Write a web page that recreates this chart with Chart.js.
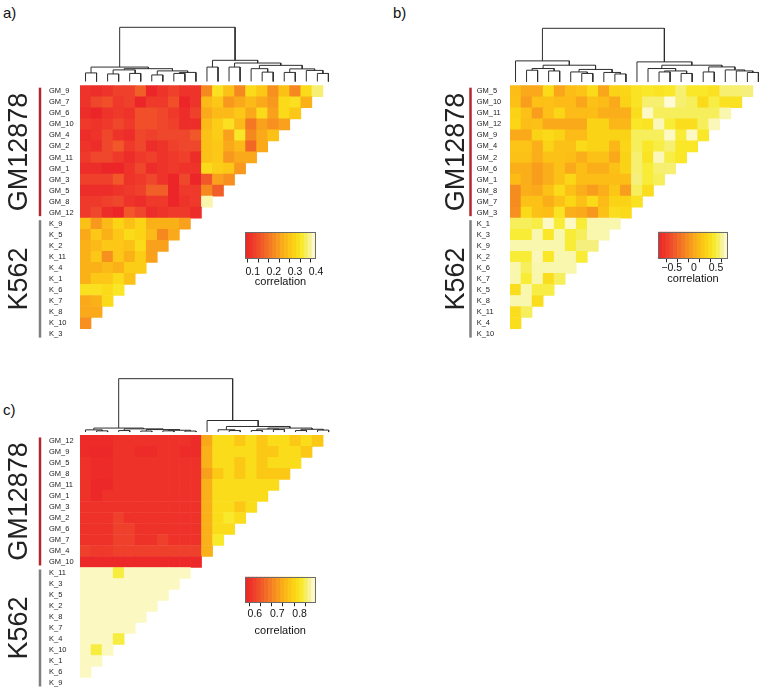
<!DOCTYPE html>
<html>
<head>
<meta charset="utf-8">
<script src="https://cdn.jsdelivr.net/npm/chart.js@4.4.1/dist/chart.umd.min.js"></script>
<style>
  body { margin: 0; background: #fff; width: 765px; height: 693px; position: relative; overflow: hidden;
         font-family: "Liberation Sans", Arial, Helvetica, sans-serif; }
  canvas { position: absolute; }
  .tag { position: absolute; font-size: 15px; color: #111; }
</style>
</head>
<body>
<div class="tag" style="left:3px;top:4px">a)</div>
<div class="tag" style="left:393px;top:4px">b)</div>
<div class="tag" style="left:3px;top:401px">c)</div>

<canvas id="mapA" width="345" height="345" style="left:0;top:0"></canvas>
<canvas id="mapB" width="335" height="345" style="left:430px;top:0"></canvas>
<canvas id="mapC" width="345" height="348" style="left:0;top:345px"></canvas>
<canvas id="keyA" width="95" height="75" style="left:235px;top:222px"></canvas>
<canvas id="keyB" width="100" height="75" style="left:648px;top:222px"></canvas>
<canvas id="keyC" width="95" height="80" style="left:234.5px;top:567px"></canvas>

<script>
// ---- data ----
const rowsA = ['GM_9','GM_7','GM_6','GM_10','GM_4','GM_2','GM_11','GM_1','GM_3','GM_5','GM_8','GM_12',
               'K_9','K_5','K_2','K_11','K_4','K_1','K_6','K_7','K_8','K_10','K_3'];
const rowsB = ['GM_5','GM_10','GM_11','GM_12','GM_9','GM_4','GM_2','GM_6','GM_1','GM_8','GM_7','GM_3',
               'K_1','K_3','K_9','K_2','K_6','K_7','K_5','K_8','K_11','K_4','K_10'];
const rowsC = ['GM_12','GM_9','GM_5','GM_8','GM_11','GM_1','GM_3','GM_2','GM_6','GM_7','GM_4','GM_10',
               'K_11','K_3','K_5','K_2','K_8','K_7','K_4','K_10','K_1','K_6','K_9'];

// correlation values, one row per label, columns follow the dendrogram leaves
const valsA = [
  [0.09,0.08,0.09,0.11,0.11,0.15,0.07,0.09,0.11,0.09,0.09, 0.2,0.32,0.27,0.2,0.31,0.28,0.21,0.27,0.2,0.31,0.36],
  [0.09,0.12,0.13,0.1,0.11,0.07,0.1,0.1,0.13,0.07,0.09, 0.26,0.28,0.22,0.24,0.26,0.24,0.22,0.31,0.32,0.25],
  [0.08,0.07,0.09,0.1,0.09,0.13,0.13,0.12,0.1,0.08,0.11, 0.24,0.26,0.26,0.28,0.24,0.31,0.23,0.31,0.28],
  [0.1,0.09,0.1,0.12,0.1,0.13,0.13,0.12,0.11,0.08,0.08, 0.26,0.29,0.32,0.26,0.18,0.23,0.21,0.23],
  [0.08,0.09,0.12,0.09,0.08,0.12,0.11,0.12,0.12,0.12,0.14, 0.27,0.29,0.23,0.33,0.2,0.24,0.27],
  [0.09,0.08,0.12,0.14,0.1,0.12,0.08,0.09,0.11,0.12,0.12, 0.27,0.28,0.24,0.26,0.16,0.24],
  [0.1,0.12,0.12,0.1,0.08,0.1,0.11,0.09,0.1,0.11,0.08, 0.27,0.28,0.22,0.24,0.24],
  [0.08,0.08,0.07,0.07,0.09,0.12,0.08,0.09,0.1,0.09,0.09, 0.31,0.29,0.28,0.22],
  [0.11,0.11,0.11,0.14,0.09,0.1,0.12,0.09,0.07,0.12,0.07, 0.14,0.23,0.21],
  [0.08,0.08,0.08,0.09,0.1,0.11,0.15,0.15,0.07,0.1,0.1, 0.2,0.15],
  [0.1,0.1,0.11,0.12,0.09,0.08,0.1,0.1,0.07,0.09,0.1, 0.38],
  [0.1,0.12,0.08,0.07,0.14,0.12,0.08,0.09,0.1,0.1,0.08],
  [0.27,0.22,0.26,0.3,0.27,0.3,0.25,0.25,0.25,0.23],
  [0.24,0.28,0.25,0.28,0.31,0.3,0.26,0.2,0.24],
  [0.25,0.26,0.28,0.28,0.27,0.31,0.23,0.23],
  [0.25,0.28,0.21,0.28,0.25,0.29,0.23],
  [0.25,0.25,0.26,0.25,0.29,0.29],
  [0.25,0.28,0.28,0.31,0.27],
  [0.32,0.32,0.31,0.33],
  [0.24,0.25,0.31],
  [0.24,0.24],
  [0.21],
  []
];
const valsB = [
  [0.14,0.02,0.02,0.35,0.0,0.14,0.18,0.35,0.0,0.3,0.32, 0.42,0.45,0.42,0.45,0.58,0.45,0.45,0.4,0.58,0.58,0.6],
  [0.15,-0.05,0.15,0.15,0.12,0.12,0.0,0.15,0.12,0.02,0.3, 0.42,0.58,0.58,0.75,0.58,0.55,0.35,0.52,0.4,0.4],
  [0.3,0.15,-0.05,0.15,0.32,0.12,0.12,0.14,0.05,0.05,0.05, 0.38,0.72,0.55,0.55,0.55,0.55,0.55,0.55,0.68],
  [0.32,0.14,0.16,0.02,0.02,0.02,0.02,0.3,0.3,0.1,0.1, 0.45,0.42,0.7,0.5,0.38,0.38,0.55,0.7],
  [0.02,0.02,0.3,0.35,0.3,0.12,0.12,0.3,0.3,0.3,0.3, 0.55,0.55,0.55,0.72,0.5,0.72,0.45],
  [0.18,0.18,0.05,0.3,0.16,0.16,0.35,0.3,0.3,0.1,0.32, 0.55,0.45,0.52,0.58,0.45,0.45],
  [0.16,0.16,0.05,0.16,0.16,0.14,0.05,0.16,0.16,0.02,0.3, 0.58,0.42,0.7,0.52,0.45],
  [0.05,0.05,-0.05,0.05,0.16,0.02,0.14,0.05,0.05,0.16,0.3, 0.58,0.5,0.58,0.58],
  [0.12,0.05,-0.05,0.05,0.16,0.32,0.14,0.14,0.14,0.14,0.14, 0.6,0.5,0.55],
  [-0.15,0.05,0.02,0.16,0.35,0.16,0.05,-0.05,0.05,0.2,-0.05, 0.55,0.38],
  [-0.15,0.16,0.16,0.05,0.16,0.32,0.16,0.35,0.12,0.3,0.3, 0.4],
  [-0.12,0.35,0.16,0.14,0.42,0.05,0.02,-0.08,0.16,0.38,0.35],
  [0.55,0.55,0.52,0.72,0.5,0.72,0.5,0.68,0.68,0.68],
  [0.5,0.5,0.68,0.45,0.68,0.5,0.55,0.68,0.68],
  [0.68,0.68,0.68,0.68,0.68,0.5,0.6,0.6],
  [0.5,0.5,0.7,0.45,0.68,0.68,0.5],
  [0.68,0.55,0.68,0.68,0.68,0.68],
  [0.68,0.5,0.68,0.38,0.55],
  [0.38,0.68,0.52,0.52],
  [0.68,0.68,0.38],
  [0.38,0.55],
  [0.38],
  []
];
const valsC = [
  [0.57,0.57,0.57,0.58,0.58,0.58,0.58,0.58,0.58,0.58,0.57, 0.72,0.79,0.79,0.76,0.79,0.76,0.79,0.79,0.76,0.79,0.76],
  [0.57,0.565,0.565,0.58,0.58,0.57,0.57,0.58,0.58,0.57,0.57, 0.73,0.79,0.79,0.79,0.79,0.76,0.76,0.79,0.79,0.76],
  [0.58,0.57,0.57,0.58,0.58,0.58,0.58,0.58,0.58,0.58,0.58, 0.73,0.79,0.79,0.76,0.79,0.76,0.79,0.79,0.79],
  [0.58,0.57,0.57,0.58,0.58,0.58,0.58,0.58,0.58,0.58,0.58, 0.71,0.76,0.79,0.76,0.79,0.76,0.76,0.76],
  [0.58,0.565,0.565,0.58,0.58,0.58,0.58,0.58,0.58,0.58,0.58, 0.73,0.79,0.79,0.79,0.79,0.79,0.79],
  [0.58,0.565,0.58,0.58,0.58,0.58,0.58,0.58,0.58,0.58,0.58, 0.73,0.79,0.79,0.79,0.79,0.79],
  [0.58,0.58,0.58,0.58,0.58,0.58,0.58,0.58,0.58,0.58,0.58, 0.73,0.79,0.79,0.76,0.79],
  [0.58,0.58,0.58,0.6,0.58,0.58,0.58,0.58,0.58,0.58,0.58, 0.73,0.79,0.81,0.79],
  [0.58,0.58,0.58,0.6,0.6,0.58,0.58,0.58,0.58,0.58,0.58, 0.73,0.79,0.79],
  [0.58,0.58,0.58,0.6,0.6,0.58,0.58,0.6,0.58,0.58,0.58, 0.73,0.81],
  [0.6,0.59,0.59,0.6,0.6,0.6,0.6,0.6,0.6,0.6,0.6, 0.73],
  [0.565,0.565,0.565,0.565,0.565,0.565,0.565,0.565,0.565,0.565,0.565],
  [0.86,0.86,0.86,0.82,0.86,0.86,0.86,0.86,0.86,0.86],
  [0.86,0.86,0.86,0.86,0.86,0.86,0.86,0.86,0.86],
  [0.86,0.86,0.86,0.86,0.86,0.86,0.86,0.86],
  [0.86,0.86,0.86,0.86,0.86,0.86,0.86],
  [0.86,0.86,0.86,0.86,0.86,0.86],
  [0.86,0.86,0.86,0.86,0.86],
  [0.86,0.86,0.86,0.82],
  [0.86,0.82,0.86],
  [0.86,0.86],
  [0.86],
  []
];

// dendrograms: [left, right, height], leaves are column indices
const treeA = [
  [[0,1,8.5], [[[2,3,7.5],[4,5,8],11.5], [[6,7,6.5],[[8,9,8],10,9],10.5], 12.7], 14.3],
  [[11,12,14.3], [[13,14,14.3], [[15,[16,17,9.3],12.7], [[18,19,9],[20,[21,22,8],11],12.5], 16], 18.3], 21],
  53.7];
const treeB = [
  [0, [[[1,2,11.7],[3,4,11],13.4], [[5,[6,7,8.5],10],[8,[9,10,8],9.5],12.5], 16.7], 21],
  [11, [[12,[[13,14,10],[15,16,8.5],11],13.4], [[17,18,10],[19,[20,[21,22,9.5],11],12],15], 16.7], 20],
  53.4];
const treeC = [
  [[0,[1,2,1.2],2.2], [[3,4,1.5],[[5,6,1],[[7,8,1.2],[9,10,1],1.8],2.5],3.2], 4],
  [11, [[12,[13,14,1.5],2.3], [[[15,16,1.5],[17,18,2.5],3],[[19,20,1.5],[21,22,2],2.8],4], 5.6], 11.6],
  53.6];

const groups = [
  { name: 'GM12878', from: 0, to: 11 },
  { name: 'K562', from: 12, to: 22 }
];

// colour key ranges and ticks
const rangeA = [0.063, 0.4];
const rangeB = [-0.81, 0.77];
const rangeC = [0.556, 0.871];
const keyTicksA = [0.1, 0.15, 0.2, 0.25, 0.3, 0.35, 0.4];
const keyLabelsA = ['0.1', '', '0.2', '', '0.3', '', '0.4'];
const keyTicksB = [-0.75, -0.5, -0.25, 0, 0.25, 0.5, 0.75];
const keyLabelsB = ['', '\u22120.5', '', '0', '', '0.5', ''];
const keyTicksC = [0.6, 0.65, 0.7, 0.75, 0.8, 0.85];
const keyLabelsC = ['0.6', '', '0.7', '', '0.8', ''];

// ---- styling ----
const FONT = '"Liberation Sans", Arial, Helvetica, sans-serif';
Chart.defaults.font.family = FONT;
const heatStops = [
  [0.00, [236, 34, 39]],
  [0.15, [239, 66, 44]],
  [0.30, [242, 106, 38]],
  [0.45, [247, 148, 30]],
  [0.60, [252, 190, 22]],
  [0.72, [251, 215, 22]],
  [0.82, [248, 236, 45]],
  [0.90, [245, 240, 135]],
  [1.00, [255, 253, 226]]
];
const groupColors = ['#b2272d', '#7f7f7f'];

function heat(t) {
  t = Math.max(0, Math.min(1, t));
  for (let i = 1; i < heatStops.length; i++) {
    const [t0, c0] = heatStops[i - 1];
    const [t1, c1] = heatStops[i];
    if (t <= t1) {
      const f = (t - t0) / (t1 - t0);
      return 'rgb(' + c0.map((v, k) => Math.round(v + (c1[k] - v) * f)).join(',') + ')';
    }
  }
  return 'rgb(255,253,226)';
}

function dendroPoints(tree) {
  const pts = [];
  (function walk(n) {
    if (typeof n === 'number') return { x: n, h: 0 };
    const a = walk(n[0]), b = walk(n[1]);
    pts.push({ x: a.x, y: a.h }, { x: a.x, y: n[2] }, { x: b.x, y: n[2] }, { x: b.x, y: b.h }, { x: b.x, y: null });
    return { x: (a.x + b.x) / 2, h: n[2] };
  })(tree);
  return pts;
}

const groupPlugin = {
  id: 'groups',
  afterDraw(chart, args, opts) {
    const ctx = chart.ctx, y = chart.scales.y;
    ctx.save();
    groups.forEach((g, i) => {
      const y0 = y.getPixelForValue(g.from - 0.5) + 2;
      const y1 = y.getPixelForValue(g.to + 0.5) - 2;
      ctx.strokeStyle = groupColors[i];
      ctx.lineWidth = 2.5;
      ctx.beginPath();
      ctx.moveTo(opts.barX, y0);
      ctx.lineTo(opts.barX, y1);
      ctx.stroke();
      ctx.save();
      ctx.translate(opts.textX, (y0 + y1) / 2);
      ctx.rotate(-Math.PI / 2);
      ctx.fillStyle = '#222';
      ctx.font = opts.textSize + 'px ' + FONT;
      ctx.textAlign = 'center';
      ctx.textBaseline = 'middle';
      ctx.fillText(g.name, 0, 0);
      ctx.restore();
    });
    ctx.restore();
  }
};

function heatPanel(id, rows, vals, tree, range, g) {
  const cells = [], colors = [];
  vals.forEach((row, r) => row.forEach((v, c) => {
    cells.push({ x: c, y: [r - 0.5, r + 0.5] });
    colors.push(heat((v - range[0]) / (range[1] - range[0])));
  }));
  const cv = document.getElementById(id);
  const top = g.hmTop - 5.5 * g.cell, bottom = g.hmTop + 23 * g.cell;
  const area = bottom - top;
  // place the dendrogram axis so leaves sit just above the heatmap
  const f0 = (bottom - g.leafY) / area, fR = (bottom - g.rootY) / area;
  const span = tree[2] / (fR - f0);
  const dMin = -f0 * span;

  new Chart(cv, {
    type: 'bar',
    data: {
      datasets: [
        { type: 'bar', data: cells, backgroundColor: colors, borderWidth: 0,
          barPercentage: 1, categoryPercentage: 1, grouped: false, xAxisID: 'x', yAxisID: 'y' },
        { type: 'line', data: dendroPoints(tree), borderColor: '#2e2e2e', borderWidth: 1,
          pointRadius: 0, spanGaps: false, tension: 0, xAxisID: 'x', yAxisID: 'yd' }
      ]
    },
    options: {
      responsive: false,
      animation: false,
      events: [],
      layout: {
        autoPadding: false,
        padding: { left: g.labelX, right: cv.width - (g.hmLeft + 23 * g.cell), top: top, bottom: cv.height - bottom }
      },
      plugins: { legend: { display: false }, tooltip: { enabled: false },
                 groups: { barX: g.barX, textX: g.textX, textSize: g.textSize } },
      scales: {
        x: { type: 'linear', min: -0.5, max: 22.5, offset: false, display: false, ticks: { stepSize: 1 } },
        y: {
          type: 'linear', reverse: true, min: -6, max: 22.5, offset: false,
          grid: { display: false }, border: { display: false },
          afterBuildTicks: s => { s.ticks = rows.map((_, i) => ({ value: i })); },
          afterFit: s => { s.width = g.hmLeft - g.labelX; },
          ticks: { autoSkip: false, crossAlign: 'far', padding: 0, color: '#222',
                   font: { size: 7.5 }, callback: v => rows[v] }
        },
        yd: { type: 'linear', display: false, min: dMin, max: dMin + span }
      }
    },
    plugins: [groupPlugin]
  });
}

const boxPlugin = {
  id: 'keybox',
  afterDraw(chart) {
    const { ctx, chartArea: a } = chart;
    ctx.save();
    ctx.strokeStyle = '#6b6b6b';
    ctx.lineWidth = 1;
    ctx.strokeRect(Math.round(a.left) + 0.5, Math.round(a.top) + 0.5, Math.round(a.right - a.left) - 1, Math.round(a.bottom - a.top) - 1);
    ctx.restore();
  }
};

function colorKey(id, range, ticks, labels, g) {
  const n = 18, w = (range[1] - range[0]) / n;
  const stripes = [], colors = [];
  for (let i = 0; i < n; i++) {
    stripes.push({ x: range[0] + (i + 0.5) * w, y: 1 });
    colors.push(heat((i + 0.5) / n));
  }
  const cv = document.getElementById(id);
  new Chart(cv, {
    type: 'bar',
    data: { datasets: [{ data: stripes, backgroundColor: colors, borderWidth: 0, barPercentage: 1, categoryPercentage: 1 }] },
    options: {
      responsive: false,
      animation: false,
      events: [],
      layout: { autoPadding: false, padding: g.pad },
      plugins: { legend: { display: false }, tooltip: { enabled: false } },
      scales: {
        x: {
          type: 'linear', min: range[0], max: range[1], offset: false,
          afterBuildTicks: s => { s.ticks = ticks.map(v => ({ value: v })); },
          afterFit: s => { s.height = g.axisH; },
          grid: { drawOnChartArea: false, drawTicks: true, tickLength: 4, tickColor: '#222', tickWidth: 1 },
          border: { display: false },
          ticks: { autoSkip: false, maxRotation: 0, padding: g.tickPad, color: '#111', font: { size: 10.5 },
                   callback: (v, i) => labels[i] },
          title: { display: true, text: 'correlation', color: '#111', font: { size: 11 }, padding: { top: 0, bottom: 4 } }
        },
        y: { type: 'linear', min: 0, max: 1, display: false }
      }
    },
    plugins: [boxPlugin]
  });
}

heatPanel('mapA', rowsA, valsA, treeA, rangeA,
  { hmLeft: 80, hmTop: 85.7, cell: 11.04, labelX: 49, leafY: 81.5, rootY: 27.3, barX: 40, textX: 20, textSize: 27 });
heatPanel('mapB', rowsB, valsB, treeB, rangeB,
  { hmLeft: 80, hmTop: 85.7, cell: 11.04, labelX: 46.7, leafY: 82, rootY: 28.3, barX: 40.5, textX: 27, textSize: 27 });
heatPanel('mapC', rowsC, valsC, treeC, rangeC,
  { hmLeft: 80, hmTop: 90.7, cell: 11.05, labelX: 49, leafY: 87.3, rootY: 33.7, barX: 40, textX: 20, textSize: 27 });

colorKey('keyA', rangeA, keyTicksA, keyLabelsA,
  { pad: { left: 10, right: 14, top: 10, bottom: 4.5 }, axisH: 34, tickPad: 3 });
colorKey('keyB', rangeB, keyTicksB, keyLabelsB,
  { pad: { left: 10, right: 20, top: 9.7, bottom: 7.7 }, axisH: 31, tickPad: 0 });
colorKey('keyC', rangeC, keyTicksC, keyLabelsC,
  { pad: { left: 10, right: 14.5, top: 9.7, bottom: 5.7 }, axisH: 39, tickPad: 1.5 });
</script>
</body>
</html>
